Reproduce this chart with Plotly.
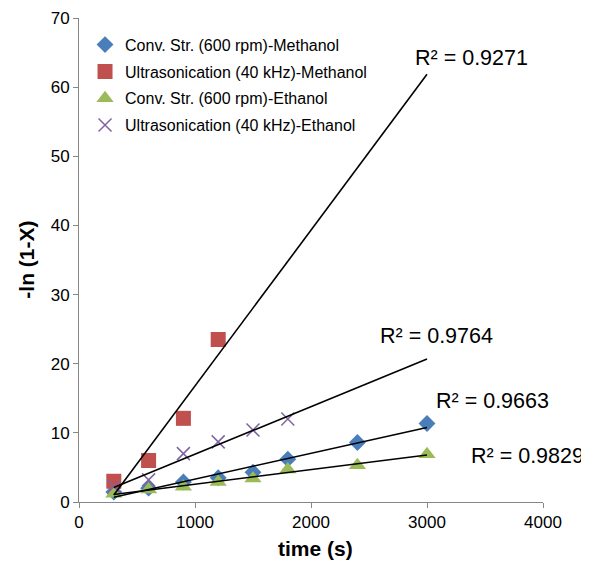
import numpy as np
import plotly.graph_objects as go

# ---- data ----
names = ["Conv. Str. (600 rpm)-Methanol", "Ultrasonication (40 kHz)-Methanol",
         "Conv. Str. (600 rpm)-Ethanol", "Ultrasonication (40 kHz)-Ethanol"]
t_conv_meoh = [300, 600, 900, 1200, 1500, 1800, 2400, 3000]
y_conv_meoh = [1.45, 2.0, 2.9, 3.5, 4.3, 6.2, 8.6, 11.35]
t_us_meoh = [300, 600, 900, 1200]
y_us_meoh = [3.0, 6.0, 12.1, 23.5]
t_conv_etoh = [300, 600, 900, 1200, 1500, 1800, 2400, 3000]
y_conv_etoh = [1.2, 1.8, 2.2, 2.9, 3.4, 4.7, 5.3, 6.9]
t_us_etoh = [300, 600, 900, 1200, 1500, 1800]
y_us_etoh = [2.2, 3.2, 7.0, 8.7, 10.4, 12.0]
r2_labels = ["R² = 0.9663", "R² = 0.9271", "R² = 0.9829", "R² = 0.9764"]
trend_end = 3000  # trendline forecast end (s)
x_title = "time (s)"
y_title = "-ln (1-X)"

xs = [t_conv_meoh, t_us_meoh, t_conv_etoh, t_us_etoh]
ys = [y_conv_meoh, y_us_meoh, y_conv_etoh, y_us_etoh]

# ---- styles ----
colors = ["#4A7EBB", "#C0504D", "#9BBB59", "#8064A2"]
symbols = ["diamond", "square", "triangle-up", "x-thin"]
sizes = [13, 15, 15, 13]
label_pos = [(3066, 14.65), (2885, 64.25), (3370, 6.62), (2590, 24.0)]

fig = go.Figure()
for i, (x, y, n, c, s, sz) in enumerate(zip(xs, ys, names, colors, symbols, sizes)):
    marker = dict(color=c, symbol=s, size=sz)
    if s == "x-thin":
        marker["line"] = dict(color=c, width=1.5)
    fig.add_trace(go.Scatter(x=x, y=y, mode="markers", name=n, marker=marker,
                             legendgroup="g%d" % i))

for x, y in zip(xs, ys):
    k, b = np.polyfit(x, y, 1)
    xt = np.array([min(x), trend_end])
    fig.add_trace(go.Scatter(x=xt, y=k * xt + b, mode="lines", showlegend=False,
                             line=dict(color="black", width=1.6), hoverinfo="skip"))

for txt, (ax, ay) in zip(r2_labels, label_pos):
    fig.add_annotation(x=ax, y=ay, text=txt, showarrow=False, xanchor="left",
                       yanchor="middle", borderpad=0, font=dict(size=21.5, color="black"))

fig.add_annotation(xref="paper", yref="paper", x=0.51, y=-0.097, text="<b>%s</b>" % x_title,
                   showarrow=False, xanchor="center", yanchor="middle",
                   font=dict(size=21, color="black"))
fig.add_annotation(xref="paper", yref="paper", x=-0.115, y=0.5, text="<b>%s</b>" % y_title,
                   showarrow=False, xanchor="center", yanchor="middle", textangle=-90,
                   font=dict(size=21, color="black"))

axis_common = dict(showgrid=False, zeroline=False, showline=True, linecolor="#868686",
                   linewidth=1, ticks="outside", tickcolor="#868686", ticklen=5,
                   automargin=False, tickfont=dict(size=17, color="black"))
fig.update_xaxes(range=[0, 4000], dtick=1000, **axis_common)
fig.update_yaxes(range=[0, 70], dtick=10, **axis_common)

# the page body has an 8px default margin, so the figure is sized to compensate
fig.update_layout(
    width=581, height=556,
    margin=dict(l=71, r=46, t=10, b=62),
    plot_bgcolor="white", paper_bgcolor="white",
    font=dict(family="Liberation Sans, Arial, sans-serif", color="black"),
    legend=dict(x=0.013, y=0.98, xanchor="left", yanchor="top",
                font=dict(size=16), bgcolor="rgba(0,0,0,0)", tracegroupgap=3,
                itemsizing="trace"),
)
fig.write_html("out.html")
